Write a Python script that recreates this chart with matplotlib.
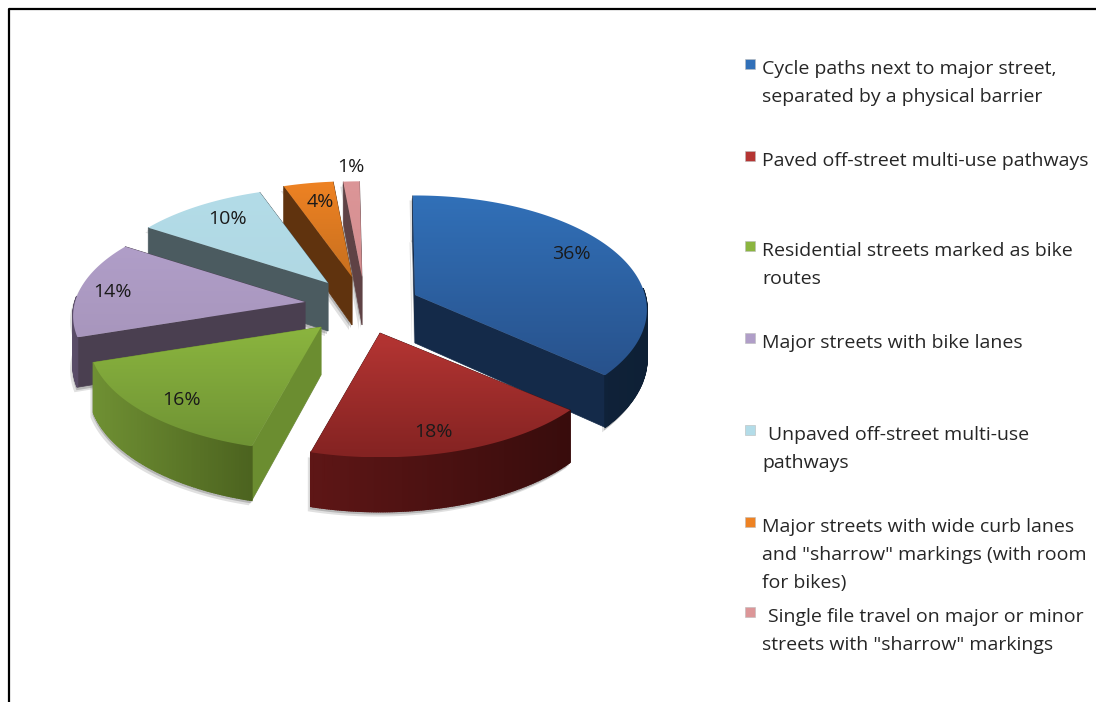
import matplotlib
matplotlib.use("Agg")
import matplotlib.pyplot as plt
import numpy as np
from matplotlib.colors import LinearSegmentedColormap, to_rgb
from matplotlib.patches import Polygon

# Data
categories = [
    "Cycle paths next to major street,\nseparated by a physical barrier",
    "Paved off-street multi-use pathways",
    "Residential streets marked as bike\nroutes",
    "Major streets with bike lanes",
    " Unpaved off-street multi-use\npathways",
    "Major streets with wide curb lanes\nand \"sharrow\" markings (with room\nfor bikes)",
    " Single file travel on major or minor\nstreets with \"sharrow\" markings",
]
shares = [36.4, 18.1, 15.7, 14.1, 10.4, 4.0, 1.3]

# Styles
top_light = ["#3170b8", "#b53533", "#8bb53f", "#b09ec8", "#b3dce8", "#ee8223", "#dc9698"]
top_dark = ["#28528c", "#842322", "#6f9334", "#a896bd", "#b0d8e3", "#c8701f", "#d48c8e"]
cut_face = ["#142a49", "#4a1110", "#6b8d30", "#4a3f50", "#4b5b60", "#60330e", "#5f4245"]
wall_left = ["#14294a", "#5e1616", "#6f9033", "#5a4d68", "#5a6e74", "#6d3a10", "#6a4a4c"]
wall_right = ["#0e2035", "#380c0c", "#4c631f", "#4a3f50", "#4b5b60", "#60330e", "#5f4245"]

# Pixel layout of the exploded pie
apex_x = [415, 380, 321, 305, 328, 352, 362]
apex_y = [295, 333, 327, 302, 283, 277, 277]
ry_scale = [1.04, 1, 1, 1, 1, 1, 1]
label_x = [571, 433, 181, 112, 227, 320, 351]
label_y = [254, 432, 400, 292, 219, 202, 167]
legend_y = [64, 156, 246, 338, 430, 522, 612]
draw_order = [6, 5, 4, 3, 0, 2, 1]
RX, RY, PERSP, DEPTH, ROTATE = 230, 110, 0.13, 48, -0.7


def project(i, deg):
    # disc point at a clockwise angle from 12 o'clock to pixel coords
    t = np.radians(deg)
    u, v = np.sin(t), -np.cos(t)
    p = 1 + PERSP * v
    return apex_x[i] + RX * u * p, apex_y[i] + RY * ry_scale[i] * v * p, DEPTH * p


fig = plt.figure(figsize=(10.96, 7.02), dpi=100)
ax = fig.add_axes([0, 0, 1, 1])
ax.set_axis_off()
plt.rcParams["font.family"] = ["Open Sans", "DejaVu Sans"]

edges = np.concatenate([[0], np.cumsum(shares) / np.sum(shares) * 360]) + ROTATE
z = 1
for i in draw_order:
    a0, a1 = edges[i], edges[i + 1]
    angles = np.linspace(a0, a1, max(int(a1 - a0) * 2, 6))
    x, y, d = project(i, angles)
    cx, cy = apex_x[i], apex_y[i]

    # soft shadow under the slice
    sil_x = np.r_[cx, x, x[::-1], cx]
    sil_y = np.r_[cy, y, (y + d)[::-1], cy + DEPTH]
    for off, al in [((-3, 5), 0.18), ((-1, 3), 0.30)]:
        ax.add_patch(Polygon(np.c_[sil_x + off[0], sil_y + off[1]], fc="#555555", ec="none",
                             alpha=al, zorder=z))
    z += 1

    # cut faces
    for k in [0, -1]:
        ax.add_patch(Polygon([(cx, cy), (x[k], y[k]), (x[k], y[k] + d[k]), (cx, cy + DEPTH)],
                             fc=cut_face[i], ec=cut_face[i], lw=0.5, zorder=z))
    z += 1

    # outer wall, only on the part that faces the viewer
    lo, hi = np.array(to_rgb(wall_left[i])), np.array(to_rgb(wall_right[i]))
    span = max(x.max() - x.min(), 1)
    for j in range(len(angles) - 1):
        if -np.cos(np.radians(angles[j])) < -0.05 and -np.cos(np.radians(angles[j + 1])) < -0.05:
            continue
        c = lo + (hi - lo) * (x[j] - x.min()) / span
        ax.add_patch(Polygon([(x[j], y[j]), (x[j + 1], y[j + 1]),
                              (x[j + 1], y[j + 1] + d[j + 1]), (x[j], y[j] + d[j])],
                             fc=c, ec=c, lw=1.2, zorder=z))
    z += 1

    # top with a vertical gradient
    top = Polygon(np.c_[np.r_[cx, x], np.r_[cy, y]], fc="none", ec="none", zorder=z)
    ax.add_patch(top)
    cmap = LinearSegmentedColormap.from_list("top", [top_light[i], top_dark[i]])
    xs, ys = np.r_[cx, x], np.r_[cy, y]
    im = ax.imshow(np.linspace(0, 1, 64).reshape(-1, 1), cmap=cmap, aspect="auto",
                   extent=(xs.min(), xs.max(), ys.max(), ys.min()), zorder=z)
    im.set_clip_path(top)
    z += 1

ax.set_xlim(0, 1096)
ax.set_ylim(702, 0)

# Percent labels
for i in range(len(shares)):
    ax.text(label_x[i], label_y[i], "%d%%" % round(shares[i]), ha="center", va="center",
            fontsize=14, color="#1a1a1a", zorder=z + 1)

# Legend
for i, name in enumerate(categories):
    ax.add_patch(Polygon([(745, legend_y[i] - 5), (755, legend_y[i] - 5),
                          (755, legend_y[i] + 5), (745, legend_y[i] + 5)],
                         fc=top_light[i], ec="#bbbbbb", lw=0.4, zorder=z))
    for n, line in enumerate(name.split("\n")):
        ax.text(768 if line.startswith(" ") else 762, legend_y[i] + 5 + n * 28, line.strip(),
                ha="left", va="center", fontsize=14, color="#262626", zorder=z)

# Frame left over from the screenshot
ax.plot([9, 9, 1096], [702, 9, 9], color="black", lw=1.6, zorder=z)

fig.savefig("out.png", dpi=100)
